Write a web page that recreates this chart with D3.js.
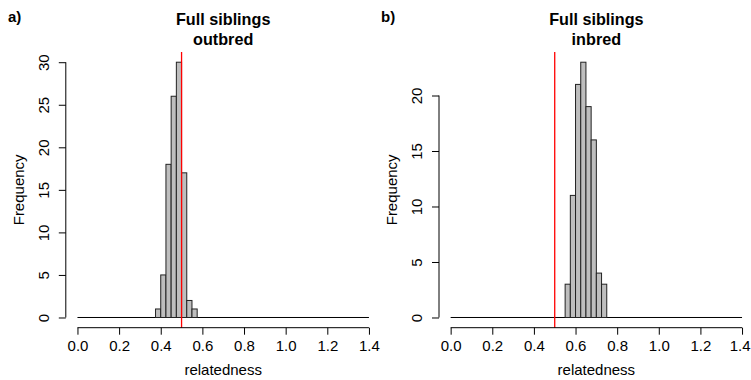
<!DOCTYPE html>
<html>
<head>
<meta charset="utf-8">
<script src="https://cdn.jsdelivr.net/npm/d3@7"></script>
<style>
  body { margin: 0; background: #fff; }
  text { font-family: "Liberation Sans", Arial, Helvetica, sans-serif; }
</style>
</head>
<body>
<div id="chart"></div>
<script>
// histogram data, bins are 0.025 wide
const binsOutbred = [0.375, 0.4, 0.425, 0.45, 0.475, 0.5, 0.525, 0.55];
const countsOutbred = [1, 5, 18, 26, 30, 17, 2, 1];
const binsInbred = [0.55, 0.575, 0.6, 0.625, 0.65, 0.675, 0.7, 0.725];
const countsInbred = [3, 11, 21, 23, 19, 16, 4, 3];
const binWidth = 0.025;

const xTicks = [0, 0.2, 0.4, 0.6, 0.8, 1.0, 1.2, 1.4];
const yTicksOutbred = [0, 5, 10, 15, 20, 25, 30];
const yTicksInbred = [0, 5, 10, 15, 20];
const expected = 0.5;

const width = 751, height = 380;

const svg = d3.select('#chart')
  .append('svg')
  .attr('width', width)
  .attr('height', height);

function panel(opts) {
  const { left, right, top, bottom, bins, counts, yTicks, yMax, title, tag, tagX } = opts;

  // R style 4% padding round the data range
  const x = d3.scaleLinear().domain([-0.056, 1.456]).range([left, right]);
  const y = d3.scaleLinear().domain([-0.04 * yMax, yMax * 1.04]).range([bottom, top]);

  const g = svg.append('g');

  // zero line over the whole break range
  g.append('line')
    .attr('x1', x(0)).attr('x2', x(1.4))
    .attr('y1', y(0)).attr('y2', y(0))
    .attr('stroke', '#000').attr('stroke-width', 1);

  g.append('g')
    .selectAll('rect')
    .data(bins.map((b, i) => ({ x0: b, n: counts[i] })))
    .join('rect')
      .attr('x', d => x(d.x0))
      .attr('y', d => y(d.n))
      .attr('width', d => x(d.x0 + binWidth) - x(d.x0))
      .attr('height', d => y(0) - y(d.n))
      .attr('fill', '#bebebe')
      .attr('stroke', '#222')
      .attr('stroke-width', 1);

  // red reference line, clipped to plot region
  g.append('line')
    .attr('x1', x(expected)).attr('x2', x(expected))
    .attr('y1', top).attr('y2', bottom)
    .attr('stroke', '#ff0000').attr('stroke-width', 1.3);

  // x axis
  const xa = g.append('g')
    .attr('transform', `translate(0,${bottom})`)
    .call(d3.axisBottom(x).tickValues(xTicks).tickFormat(d3.format('.1f')).tickSize(7).tickPadding(6));
  xa.select('.domain').remove();
  xa.append('line')
    .attr('x1', x(0)).attr('x2', x(1.4))
    .attr('stroke', '#000');
  xa.selectAll('text').attr('font-size', 15).attr('fill', '#000')
    .style('font-family', '"Liberation Sans", Arial, sans-serif');
  // keep the last label inside the window
  if (x(1.4) + 11 > width) {
    xa.selectAll('.tick text').filter(d => d === 1.4).attr('dx', width - 1 - (x(1.4) + 10.4));
  }

  // y axis
  const ya = g.append('g')
    .attr('transform', `translate(${left},0)`)
    .call(d3.axisLeft(y).tickValues(yTicks).tickSize(7).tickFormat(''));
  ya.select('.domain').remove();
  ya.append('line')
    .attr('y1', y(yTicks[0])).attr('y2', y(yTicks[yTicks.length - 1]))
    .attr('stroke', '#000');
  ya.selectAll('.tick')
    .append('text')
    .attr('transform', 'translate(-17,0) rotate(-90)')
    .attr('text-anchor', 'middle')
    .attr('font-size', 15)
    .attr('fill', '#000')
    .text(d => d);

  // axis titles
  g.append('text')
    .attr('x', (left + right) / 2).attr('y', 374.5)
    .attr('text-anchor', 'middle').attr('font-size', 15)
    .text('relatedness');
  g.append('text')
    .attr('transform', `translate(${left - 42},${(top + bottom) / 2}) rotate(-90)`)
    .attr('text-anchor', 'middle').attr('font-size', 15)
    .text('Frequency');

  // main title, two lines
  title.forEach((t, i) => {
    g.append('text')
      .attr('x', (left + right) / 2).attr('y', 24.5 + i * 20)
      .attr('text-anchor', 'middle')
      .attr('font-size', 16.2).attr('font-weight', 'bold')
      .text(t);
  });

  g.append('text')
    .attr('x', tagX).attr('y', 22)
    .attr('font-size', 15).attr('font-weight', 'bold')
    .text(tag);
}

panel({
  left: 65.8, right: 380.6, top: 52, bottom: 327.7,
  bins: binsOutbred, counts: countsOutbred,
  yTicks: yTicksOutbred, yMax: 30,
  title: ['Full siblings', 'outbred'], tag: 'a)', tagX: 8
});

panel({
  left: 439, right: 753.7, top: 52, bottom: 327.7,
  bins: binsInbred, counts: countsInbred,
  yTicks: yTicksInbred, yMax: 23,
  title: ['Full siblings', 'inbred'], tag: 'b)', tagX: 381
});
</script>
</body>
</html>
